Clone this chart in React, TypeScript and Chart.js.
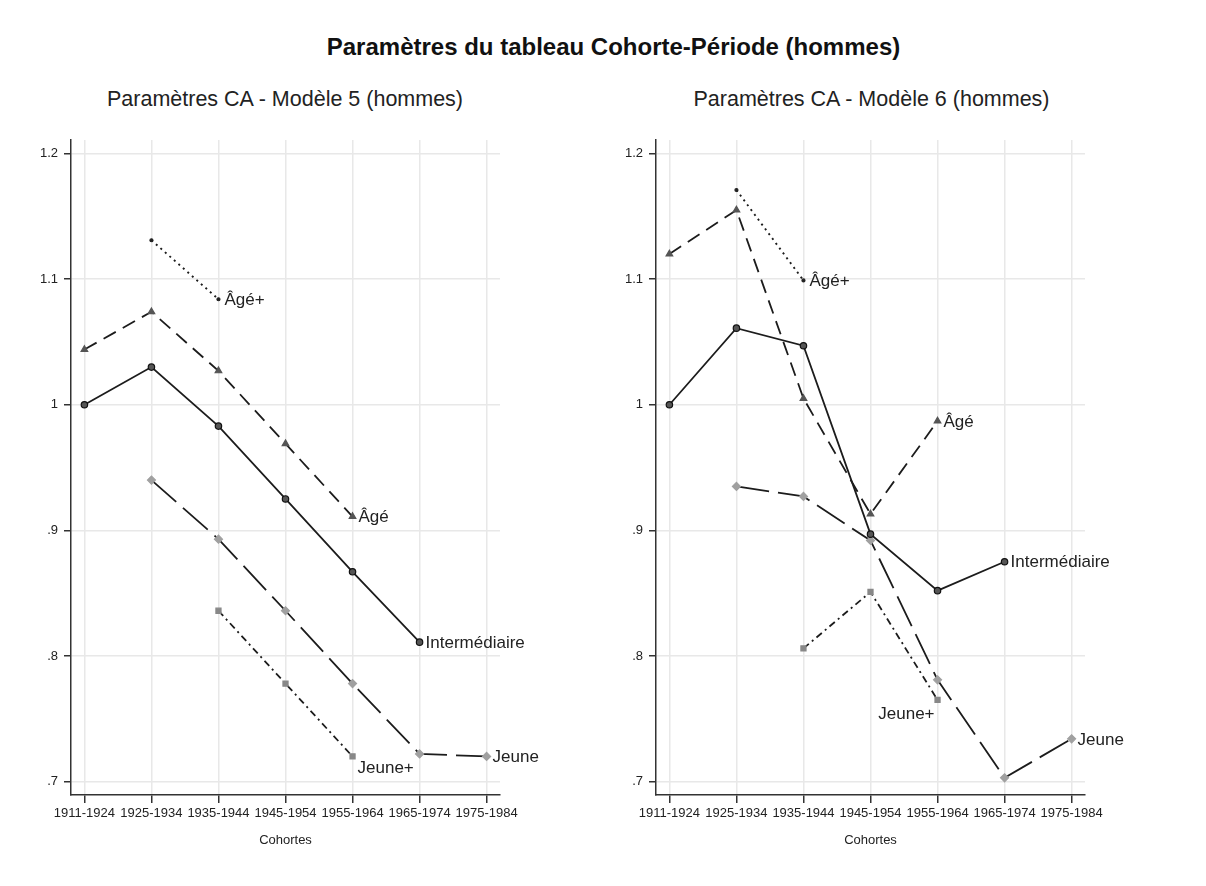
import React, { useEffect, useRef } from "react";
import { Chart, registerables } from "chart.js";

Chart.register(...registerables);

const categories = ["1911-1924", "1925-1934", "1935-1944", "1945-1954", "1955-1964", "1965-1974", "1975-1984"];
const seriesNames = ["Intermédiaire", "Âgé", "Âgé+", "Jeune", "Jeune+"];

const yTickValues = [0.7, 0.8, 0.9, 1.0, 1.1, 1.2];
const yTickLabels = [".7", ".8", ".9", "1", "1.1", "1.2"];

// Modèle 5
const m5Intermediaire = [1.0, 1.03, 0.983, 0.925, 0.867, 0.811, null];
const m5Age = [1.044, 1.074, 1.027, 0.969, 0.911, null, null];
const m5AgePlus = [null, 1.131, 1.084, null, null, null, null];
const m5Jeune = [null, 0.94, 0.893, 0.836, 0.778, 0.722, 0.72];
const m5JeunePlus = [null, null, 0.836, 0.778, 0.72, null, null];

// Modèle 6
const m6Intermediaire = [1.0, 1.061, 1.047, 0.897, 0.852, 0.875, null];
const m6Age = [1.12, 1.155, 1.005, 0.913, 0.987, null, null];
const m6AgePlus = [null, 1.171, 1.099, null, null, null, null];
const m6Jeune = [null, 0.935, 0.927, 0.892, 0.781, 0.703, 0.734];
const m6JeunePlus = [null, null, 0.806, 0.851, 0.765, null, null];

const FONT = '"Liberation Sans", Arial, Helvetica, sans-serif';

const styles = [
  { borderDash: [], pointStyle: "circle", radius: 3.2, pointColor: "#555", pointBorder: "#111", width: 1.8 },
  { borderDash: [14, 8], pointStyle: "triangle", radius: 3.8, pointColor: "#555", pointBorder: "#555", width: 1.8 },
  { borderDash: [2, 4], pointStyle: "circle", radius: 1.5, pointColor: "#222", pointBorder: "#222", width: 1.9 },
  { borderDash: [33, 9], pointStyle: "rectRot", radius: 4, pointColor: "#a0a0a0", pointBorder: "#a0a0a0", width: 1.8 },
  { borderDash: [7, 4, 2, 4], pointStyle: "rect", radius: 3.6, pointColor: "#888", pointBorder: "#888", width: 1.8 },
];

function toPoints(arr: (number | null)[]) {
  const pts: { x: number; y: number }[] = [];
  arr.forEach((v, i) => {
    if (v !== null) pts.push({ x: i, y: v });
  });
  return pts;
}

const endLabelPlugin = {
  id: "endLabels",
  afterDatasetsDraw(chart: any, _args: any, opts: any) {
    const ctx = chart.ctx;
    const positions: string[] = opts.positions || [];
    ctx.save();
    ctx.font = `17px ${FONT}`;
    ctx.fillStyle = "#222";
    chart.data.datasets.forEach((ds: any, i: number) => {
      const meta = chart.getDatasetMeta(i);
      const el = meta.data[meta.data.length - 1];
      if (!el) return;
      const pos = positions[i] || "right";
      let x = el.x;
      let y = el.y;
      if (pos === "right") {
        x += 6;
        ctx.textAlign = "left";
      } else if (pos === "belowRight") {
        x += 5;
        y += 11;
        ctx.textAlign = "left";
      } else if (pos === "belowLeft") {
        x -= 3;
        y += 13;
        ctx.textAlign = "right";
      }
      ctx.textBaseline = "middle";
      ctx.fillText(ds.label, x, y + 1);
    });
    ctx.restore();
  },
};

function LineChart(props: { series: (number | null)[][]; positions: string[]; width: number; padRight: number; left: number }) {
  const ref = useRef<HTMLCanvasElement>(null);
  useEffect(() => {
    if (!ref.current) return;
    const chart = new Chart(ref.current, {
      type: "line",
      data: {
        datasets: props.series.map((s, i) => ({
          label: seriesNames[i],
          data: toPoints(s),
          borderColor: "#1c1c1c",
          borderWidth: styles[i].width,
          borderDash: styles[i].borderDash,
          pointStyle: styles[i].pointStyle as any,
          pointRadius: styles[i].radius,
          pointBackgroundColor: styles[i].pointColor,
          pointBorderColor: styles[i].pointBorder,
          pointBorderWidth: 1.2,
          fill: false,
          tension: 0,
        })),
      },
      options: {
        animation: false,
        responsive: false,
        layout: { padding: { top: 10, left: 0, right: props.padRight, bottom: 15 } },
        plugins: {
          legend: { display: false },
          tooltip: { enabled: false },
          endLabels: { positions: props.positions },
        } as any,
        scales: {
          x: {
            type: "linear",
            min: -0.2,
            max: 6.2,
            afterBuildTicks: (scale: any) => {
              scale.ticks = categories.map((_, i) => ({ value: i }));
            },
            afterFit: (scale: any) => {
              scale.height = 60;
              scale.paddingLeft = 0;
              scale.paddingRight = 0;
            },
            ticks: {
              autoSkip: false,
              maxRotation: 0,
              padding: 3,
              color: "#222",
              font: { size: 13, family: FONT },
              callback: (v: any) => categories[v as number] ?? "",
            },
            grid: { color: "#e8e8e8", lineWidth: 1.5, tickColor: "#333", tickLength: 8, tickWidth: 1.5 },
            border: { color: "#333", width: 1.5 },
            title: {
              display: true,
              text: "Cohortes",
              color: "#222",
              font: { size: 13, family: FONT },
              padding: { top: 0, bottom: 7 },
            },
          },
          y: {
            type: "linear",
            min: 0.6893,
            max: 1.2108,
            afterBuildTicks: (scale: any) => {
              scale.ticks = yTickValues.map((v) => ({ value: v }));
            },
            afterFit: (scale: any) => {
              scale.width = 71;
              scale.paddingTop = 0;
              scale.paddingBottom = 0;
            },
            ticks: {
              padding: 6,
              color: "#222",
              font: { size: 13, family: FONT },
              callback: (v: any) => {
                const idx = yTickValues.findIndex((t) => Math.abs(t - v) < 1e-6);
                return idx >= 0 ? yTickLabels[idx] : "";
              },
            },
            grid: { color: "#e8e8e8", lineWidth: 1.5, tickColor: "#333", tickLength: 7, tickWidth: 1.5 },
            border: { color: "#333", width: 1.5 },
          },
        },
      } as any,
      plugins: [endLabelPlugin],
    });
    return () => chart.destroy();
  }, []);
  return (
    <canvas
      ref={ref}
      width={props.width}
      height={740}
      style={{ position: "absolute", left: props.left, top: 130, width: props.width, height: 740 }}
    />
  );
}

export default function App() {
  const subStyle: React.CSSProperties = {
    position: "absolute",
    top: 86,
    height: 26,
    lineHeight: "26px",
    fontSize: 21.5,
    fontFamily: FONT,
    color: "#222",
    textAlign: "center",
    whiteSpace: "nowrap",
  };
  return (
    <div style={{ position: "absolute", left: 0, top: 0, width: 1206, height: 886, background: "#fff", overflow: "hidden" }}>
      <div
        style={{
          position: "absolute",
          left: 0,
          top: 32,
          width: 1227,
          height: 30,
          lineHeight: "30px",
          fontSize: 24,
          fontWeight: "bold",
          fontFamily: FONT,
          color: "#111",
          textAlign: "center",
          whiteSpace: "nowrap",
        }}
      >
        Paramètres du tableau Cohorte-Période (hommes)
      </div>
      <div style={{ ...subStyle, left: 0, width: 570 }}>Paramètres CA - Modèle 5 (hommes)</div>
      <div style={{ ...subStyle, left: 585, width: 573 }}>Paramètres CA - Modèle 6 (hommes)</div>
      <LineChart
        series={[m5Intermediaire, m5Age, m5AgePlus, m5Jeune, m5JeunePlus]}
        positions={["right", "right", "right", "right", "belowRight"]}
        width={580}
        padRight={80}
        left={0}
      />
      <LineChart
        series={[m6Intermediaire, m6Age, m6AgePlus, m6Jeune, m6JeunePlus]}
        positions={["right", "right", "right", "right", "belowLeft"]}
        width={621}
        padRight={121}
        left={585}
      />
    </div>
  );
}
